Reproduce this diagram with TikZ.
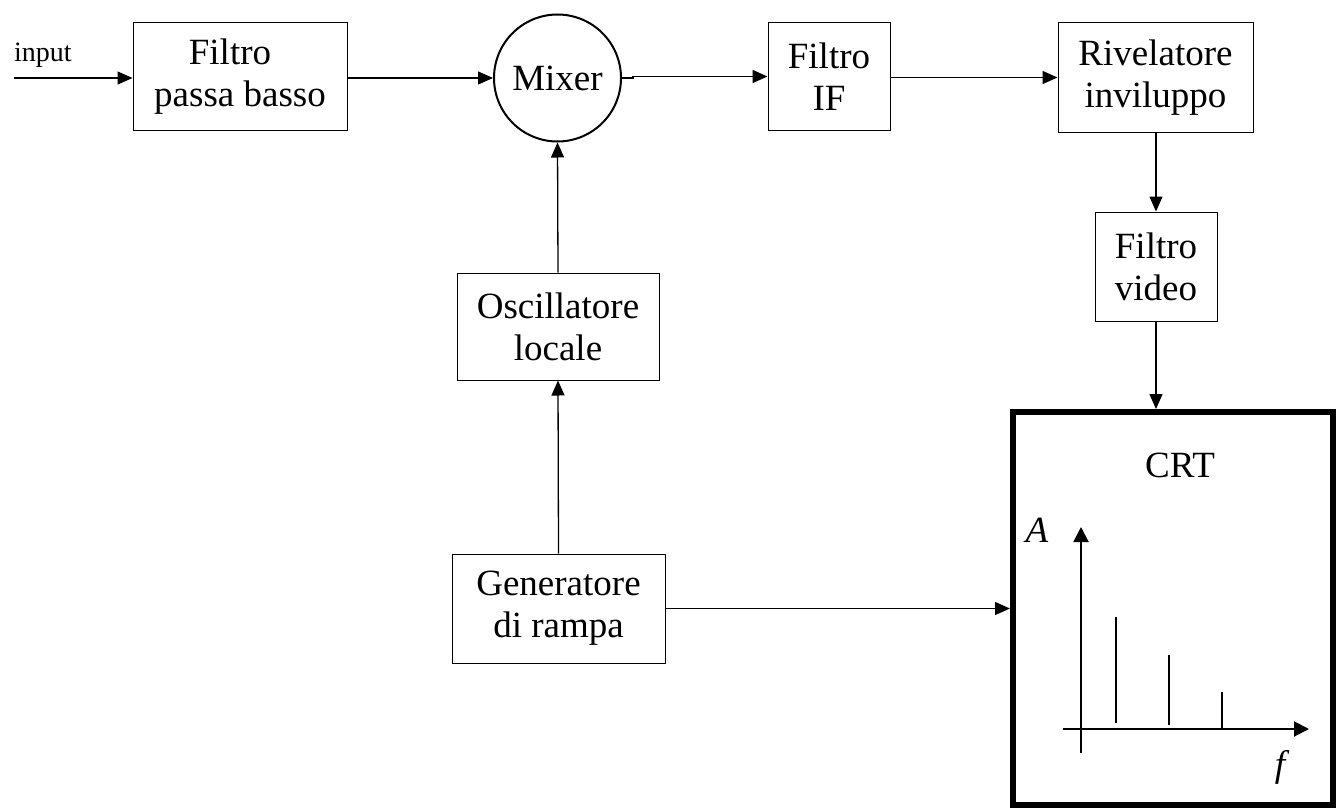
\documentclass[tikz,border=0pt]{standalone}
\usepackage{fontspec}
\setmainfont{Liberation Serif}
\usetikzlibrary{arrows.meta}
\begin{document}
\begin{tikzpicture}[x=1pt,y=-1pt,
  blk/.style={draw, line width=1pt, inner sep=0pt, align=center, font=\fontsize{37}{42}\selectfont},
  arr/.style={line width=1.3pt, -{Triangle[length=15pt,width=13pt]}},
  axarr/.style={line width=2pt, -{Triangle[length=15pt,width=15pt]}},
  spec/.style={line width=1.3pt},
  lbl/.style={inner sep=0pt, font=\fontsize{37}{42}\selectfont},
  ]
\useasboundingbox (0,0) rectangle (1336,808);
% blocks
\node[blk, minimum width=214pt, minimum height=107pt] (fpb) at (240,76.5) {Filtro\hspace*{20pt}\\passa basso};
\node[draw, circle, line width=2pt, minimum size=127pt, inner sep=0pt, font=\fontsize{37}{42}\selectfont] (mix) at (557.5,78) {Mixer};
\node[blk, minimum width=122pt, minimum height=107pt] (fif) at (829,76.5) {Filtro\\IF};
\node[blk, minimum width=195pt, minimum height=109pt] (riv) at (1155.5,77.5) {Rivelatore\\inviluppo};
\node[blk, minimum width=122pt, minimum height=109pt] (fv) at (1156,266.5) {Filtro\\video};
\node[blk, minimum width=202pt, minimum height=107pt] (osc) at (558,326.5) {Oscillatore\\locale};
\node[blk, minimum width=213pt, minimum height=109pt] (gen) at (558.5,608.5) {Generatore\\di rampa};
\node[draw, line width=6pt, minimum width=320pt, minimum height=393pt, inner sep=0pt] (crt) at (1173,608.5) {};
% input
\node[inner sep=0pt, anchor=base west, font=\fontsize{28}{32}\selectfont] (inp) at (14,62) {input};
\coordinate (in0) at (14,78);
% connectors
\draw[arr] (in0) -- (in0 -| fpb.west);
\draw[arr] (fpb.east |- mix.west) -- (mix.west);
\draw[arr] (mix.east) -- ++(11,0) |- (fif.west);
\draw[arr] (fif.east |- riv.west) -- (riv.west);
\draw[arr] (fv.north |- riv.south) -- (fv.north);
\draw[arr] (fv.south) -- (fv.south |- crt.north);
\draw[arr] (osc.north) -- (mix.south);
\draw[arr] (gen.north) -- (osc.south);
\draw[arr] (gen.east) -- (gen.east -| crt.west);
% CRT content
\node[lbl] (crtl) at (1180,465) {CRT};
\node[lbl, font=\fontsize{37}{42}\selectfont\itshape] (al) at (1037,530) {A};
\node[lbl, font=\fontsize{37}{42}\selectfont\itshape] (fl) at (1280,767) {f};
\coordinate (ya) at (1081,753);
\coordinate (yb) at (1081,527);
\coordinate (xa) at (1063,729);
\coordinate (xb) at (1309,729);
\draw[axarr] (ya) -- (yb);
\draw[axarr] (xa) -- (xb);
\draw[spec] (1116,617) -- (1116,723);
\draw[spec] (1169,655) -- (1169,725);
\draw[spec] (1222,692) -- (1222,728);
\end{tikzpicture}
\end{document}
